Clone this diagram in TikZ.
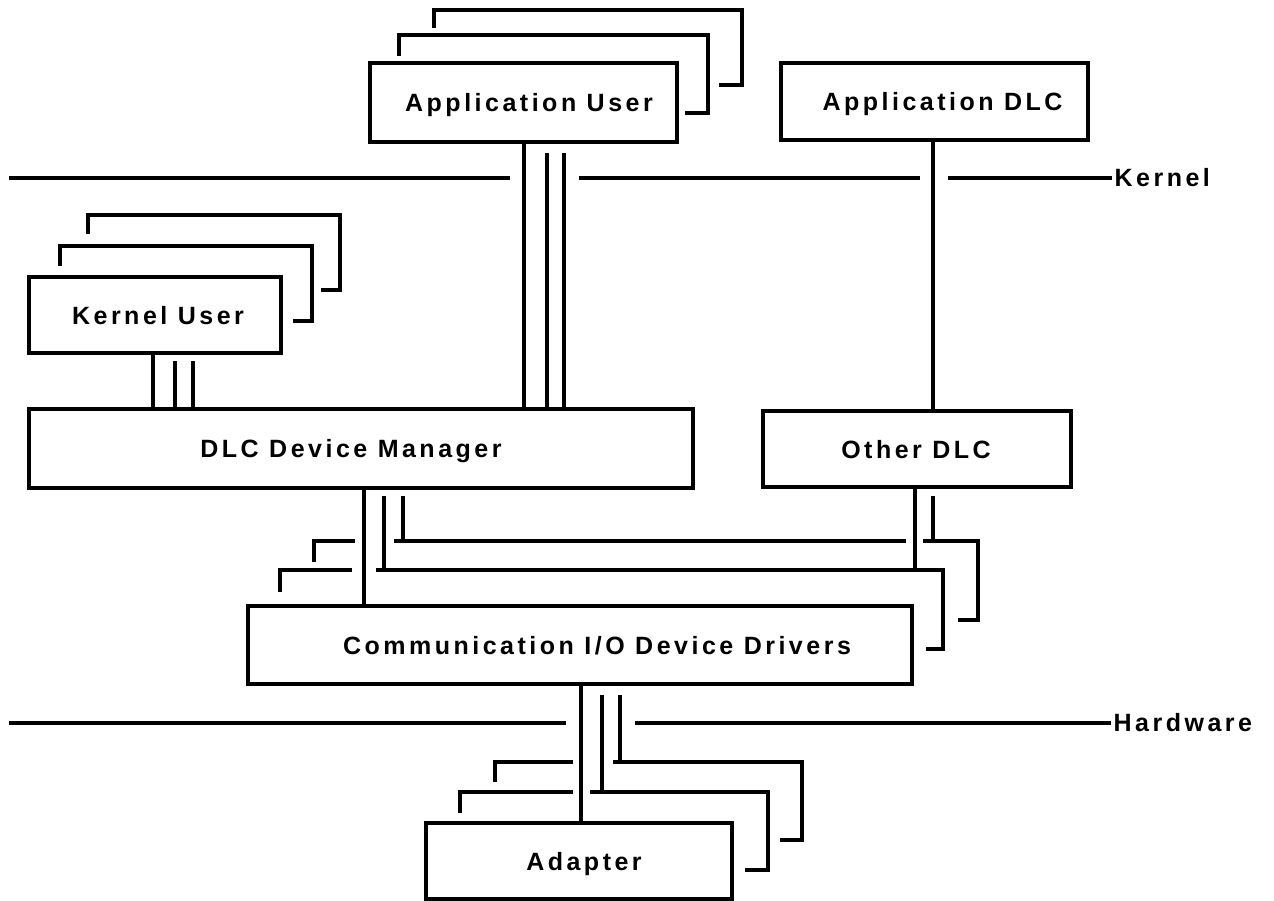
\documentclass[tikz,border=0pt]{standalone}
\usepackage{fontspec}
\setmainfont{Liberation Sans}[LetterSpace=14]
\begin{document}
\begin{tikzpicture}[x=1pt,y=-1pt,line width=3.2pt,
  box/.style={draw,line width=3.2pt,inner sep=0pt,text height=18pt,text depth=0pt,
    font=\bfseries\fontsize{25}{30}\selectfont},
  lbl/.style={inner sep=1pt,anchor=west,font=\bfseries\fontsize{25}{30}\selectfont}]
\useasboundingbox (0,0) rectangle (1274,901);
% boxes
\node[box,minimum width=307pt,minimum height=79pt] (au) at (523.5,102.5) {\hspace*{11pt}Application User};
\node[box,minimum width=307pt,minimum height=77pt] (adlc) at (934.5,101.5) {\hspace*{16pt}Application DLC};
\node[box,minimum width=252pt,minimum height=76pt] (ku) at (155,315) {\hspace*{6pt}Kernel User};
\node[box,minimum width=664pt,minimum height=79pt] (dm) at (361,448.5) {\hspace*{-20pt}DLC Device Manager};
\node[box,minimum width=308pt,minimum height=76pt] (od) at (917,449) {\hspace*{-2pt}Other DLC};
\node[box,minimum width=664pt,minimum height=78pt] (cd) at (580,645) {\hspace*{34pt}Communication I/O Device Drivers};
\node[box,minimum width=306pt,minimum height=76pt] (ad) at (579,861) {\hspace*{10pt}Adapter};
% layer labels
\node[lbl] (kl) at (1112,178) {Kernel};
\node[lbl] (hw) at (1111,723) {Hardware};
% shadows of Application User
\draw (399,56) -- (399,35) -- (708,35) -- (708,113) -- (685,113);
\draw (434,28) -- (434,10) -- (742,10) -- (742,85) -- (719,85);
% shadows of Kernel User
\draw (60,266) -- (60,246) -- (312,246) -- (312,321) -- (293,321);
\draw (88,234) -- (88,215) -- (340,215) -- (340,290) -- (321,290);
% kernel line
\draw (9,178) -- (510,178);
\draw (579,178) -- (920,178);
\draw (948,178) -- (kl.west);
% hardware line
\draw (9,723) -- (566,723);
\draw (635,723) -- (hw.west);
% Application User connectors
\draw (au.south -| 524,0) -- (dm.north -| 524,0);
\draw (547,153) -- (dm.north -| 547,0);
\draw (564,153) -- (dm.north -| 564,0);
% Application DLC connector
\draw (adlc.south -| 933,0) -- (od.north -| 933,0);
% Kernel User connectors
\draw (ku.south -| 153,0) -- (dm.north -| 153,0);
\draw (175,361) -- (dm.north -| 175,0);
\draw (193,361) -- (dm.north -| 193,0);
% DLC Device Manager connectors
\draw (dm.south -| 364,0) -- (cd.north -| 364,0);
\draw (384,496) -- (384,570);
\draw (403,496) -- (403,541);
% Other DLC connectors
\draw (od.south -| 915,0) -- (915,570);
\draw (933,496) -- (933,541);
% shadows of Communication I/O Device Drivers
\draw (280,592) -- (280,570) -- (352,570);
\draw (376,570) -- (943,570) -- (943,649) -- (926,649);
\draw (314,562) -- (314,541) -- (355,541);
\draw (394,541) -- (906,541);
\draw (923,541) -- (978,541) -- (978,620) -- (958,620);
% Communication connectors
\draw (cd.south -| 581,0) -- (ad.north -| 581,0);
\draw (602,695) -- (602,792);
\draw (620,695) -- (620,762);
% shadows of Adapter
\draw (460,813) -- (460,792) -- (573,792);
\draw (590,792) -- (768,792) -- (768,870) -- (745,870);
\draw (495,782) -- (495,762) -- (573,762);
\draw (613,762) -- (802,762) -- (802,840) -- (780,840);
\end{tikzpicture}
\end{document}
